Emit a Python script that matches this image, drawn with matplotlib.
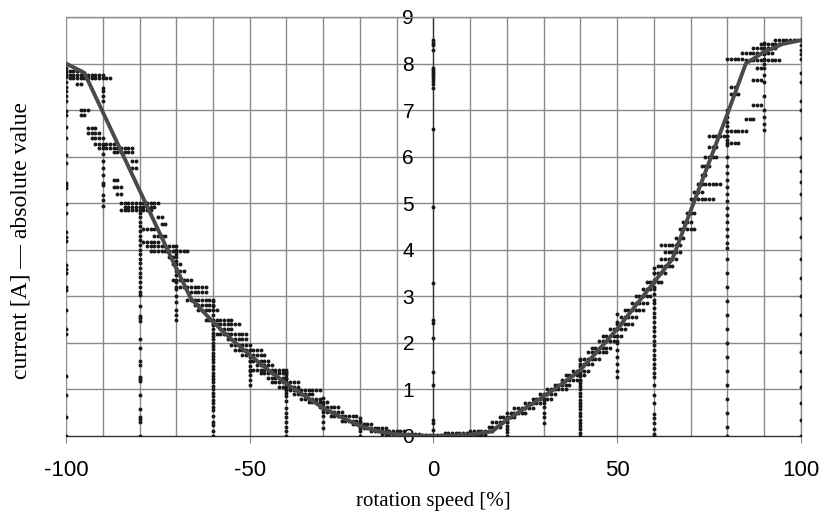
import numpy as np
import matplotlib
matplotlib.use("Agg")
import matplotlib.pyplot as plt

# ---- fitted mean curve ----
curve_speed = [-100, -95, -90, -85, -80, -75, -70, -66, -60, -55, -50, -45, -40, -35, -30,
               -25, -20, -15, -10, -5, 0, 5, 10, 16, 20, 25, 30, 35, 40, 45, 50, 55, 60,
               65, 70, 75, 80, 85, 90, 95, 100]
curve_current = [8.0, 7.8, 6.96, 6.12, 5.28, 4.44, 3.6, 2.95, 2.45, 2.08, 1.74, 1.42, 1.12,
                 0.86, 0.6, 0.4, 0.22, 0.1, 0.04, 0.01, 0.0, 0.01, 0.03, 0.1, 0.35, 0.6,
                 0.85, 1.12, 1.42, 1.85, 2.3, 2.8, 3.3, 3.8, 4.84, 5.88, 6.92, 8.0, 8.25,
                 8.42, 8.5]

# ---- measured samples: vertical columns (speed, list of currents) ----
col_speeds = [-100, -90, -80, -70, -60, -50, -40, -30, -20, 0, 20, 30, 40, 50, 60, 80, 90, 100]
col_values = [
    [0, 0.41, 0.88, 1.29, 2.19, 2.3, 2.7, 3.14, 3.19, 3.49, 3.58, 3.67, 4.19, 4.28, 4.39, 4.8,
     4.98, 5.33, 5.39, 5.43, 5.86, 6.03, 6.39, 6.64, 6.9, 6.97, 7.2, 7.3, 7.4, 7.5, 7.6, 7.7,
     7.8, 7.9],
    [4.93, 5.07, 5.17, 5.39, 5.43, 5.6, 5.75, 5.9, 6.05, 6.25, 7.2, 7.3, 7.4, 7.47],
    [0, 0.29, 0.36, 0.4, 0.57, 0.88, 1.19, 1.22, 1.27, 1.52, 1.6, 1.88, 2.08, 2.47, 2.53, 2.58,
     2.79, 3.03, 3.1, 3.2, 3.3, 3.42, 3.5, 3.6, 3.72, 3.8, 3.9, 4.0, 4.1, 4.2, 4.3, 4.4, 4.5,
     4.6, 4.7, 4.8],
    [2.49, 2.6, 2.71, 2.88, 3.0, 3.15, 3.3, 3.45, 3.6, 3.75, 3.9, 4.0],
    [0, 0.1, 0.24, 0.31, 0.42, 0.56, 0.63, 0.7, 0.78, 0.86, 0.93, 1.0, 1.08, 1.15, 1.22,
     1.29, 1.36, 1.43, 1.5, 1.58, 1.65, 1.72, 1.79, 1.86, 1.93, 2.0, 2.08, 2.15, 2.22, 2.3,
     2.38, 2.5, 2.6, 2.7, 2.8, 2.9],
    [1.1, 1.2, 1.3, 1.4, 1.5, 1.6, 1.7, 1.85],
    [0, 0.1, 0.2, 0.3, 0.4, 0.5, 0.6, 0.75, 0.85, 0.92, 1.0, 1.08, 1.15, 1.22, 1.3, 1.38],
    [0.17, 0.3, 0.42, 0.55, 0.68, 0.82],
    [0.0, 0.1, 0.2, 0.3, 0.39],
    [0.13, 0.27, 0.34, 1.1, 1.38, 2.1, 2.42, 2.49, 3.29, 4.91, 6.6, 7.47, 7.55, 7.62, 7.68,
     7.73, 7.78, 7.82, 7.87, 7.9, 8.29, 8.4, 8.45, 8.5],
    [0.0, 0.08, 0.15, 0.22, 0.31],
    [0.27, 0.4, 0.5, 0.62, 0.77],
    [0, 0.07, 0.14, 0.21, 0.28, 0.35, 0.42, 0.5, 0.57, 0.64, 0.71, 0.78, 0.86, 0.93, 1.0,
     1.07, 1.14, 1.21, 1.28, 1.35, 1.42, 1.5, 1.63],
    [1.27, 1.4, 1.55, 1.7, 1.85, 2.0, 2.15, 2.3, 2.45, 2.63],
    [0, 0.05, 0.16, 0.27, 0.38, 0.48, 0.7, 0.88, 1.1, 1.27, 1.35, 1.45, 1.55, 1.65, 1.75,
     1.85, 1.95, 2.05, 2.15, 2.25, 2.35, 2.45, 2.55, 2.65, 2.75, 2.85, 2.92, 3.05, 3.2, 3.35,
     3.5, 3.6],
    [0, 0.2, 0.5, 0.8, 1.1, 1.4, 1.7, 2.0, 2.3, 2.6, 2.9, 3.2, 3.5, 3.8, 4.04, 4.15, 4.3,
     4.45, 4.6, 4.75, 4.9, 5.05, 5.2, 5.35, 5.5, 5.65, 5.8, 6.0, 6.25, 6.35, 6.45, 6.55, 6.65,
     6.75, 6.85, 7.0],
    [6.57, 6.7, 6.85, 7.0, 7.3, 7.6, 7.75, 7.9, 8.0, 8.1, 8.2, 8.3, 8.43],
    [0, 0.35, 0.7, 1.05, 1.4, 1.8, 2.2, 2.6, 3.0, 3.4, 3.8, 4.28, 4.68, 5.2, 5.46, 5.7, 6.0,
     6.4, 7.0, 7.2, 7.6, 7.8, 8.1, 8.2, 8.3, 8.4, 8.5],
]

# ---- measured samples: horizontal runs (current, speed from, speed to), 1 % steps ----
run_current = [7.85, 7.75, 7.68, 7.55, 7.0, 6.9, 6.62, 6.5, 6.4, 6.28, 6.18, 6.1, 5.9, 5.75,
               5.5, 5.35, 5.2, 5.0, 4.92, 4.85, 4.7, 4.55, 4.45, 4.3, 4.17, 4.07, 3.97, 3.85,
               3.7, 3.55, 3.35, 3.2, 3.1, 2.92, 2.82, 2.7, 2.5, 2.4, 2.3, 2.2, 2.08, 1.95,
               1.85, 1.75, 1.62, 1.52, 1.42, 1.35, 1.25, 1.15, 1.06, 0.98, 0.9, 0.8, 0.72,
               0.62, 0.52, 0.42, 0.33, 0.25, 0.17, 0.1, 0.04,
               0.02, 0.06, 0.1, 0.2, 0.3, 0.4, 0.5, 0.6, 0.7, 0.8, 0.9, 1.0, 1.1, 1.2, 1.3,
               1.4, 1.55, 1.65, 1.8, 1.9, 2.05, 2.15, 2.3, 2.4, 2.55, 2.7, 2.85, 3.0, 3.15,
               3.3, 3.5, 3.65, 3.8, 3.95, 4.1, 4.25, 4.45, 4.6, 4.8, 5.1, 5.25, 5.42, 5.6, 5.8,
               6.0, 6.2, 6.3, 6.45, 6.55, 6.8, 7.1, 7.35, 7.5, 7.65, 7.9, 8.1, 8.08, 8.22,
               8.33, 8.42, 8.5]
run_from = [-100, -100, -99, -97, -96, -96, -94, -94, -93, -92, -91, -87, -82, -82,
            -87, -87, -86, -85, -84, -85, -75, -74, -79, -76, -79, -78, -77, -72,
            -71, -70, -71, -70, -66, -67, -65, -64, -62, -60, -58, -59, -56, -55,
            -54, -52, -50, -48, -50, -47, -45, -44, -42, -40, -38, -36, -34,
            -31, -30, -28, -25, -22, -20, -17, -14,
            -3, 3, 10, 15, 16, 18, 20, 22, 25, 27, 29, 31, 33, 35, 36,
            38, 40, 40, 42, 43, 45, 46, 48, 50, 51, 52, 54, 55, 57,
            58, 60, 61, 62, 63, 62, 66, 67, 68, 69, 70, 71, 72, 73, 73,
            74, 75, 80, 75, 80, 85, 87, 81, 81, 87, 88, 80, 85, 84,
            87, 89, 93]
run_to = [-96, -90, -88, -96, -94, -95, -92, -91, -90, -87, -82, -82, -81, -81,
          -86, -85, -85, -75, -76, -77, -74, -73, -76, -73, -75, -70, -67, -70,
          -69, -68, -66, -62, -62, -60, -60, -59, -55, -53, -55, -51, -51, -50,
          -47, -46, -45, -44, -40, -40, -40, -37, -37, -31, -33, -31, -29,
          -26, -25, -21, -20, -17, -13, -8, -4,
          14, 14, 16, 18, 20, 22, 25, 27, 30, 32, 33, 36, 37, 40, 41,
          42, 43, 45, 47, 48, 50, 51, 52, 54, 55, 57, 58, 59, 60,
          62, 63, 65, 66, 67, 67, 68, 71, 70, 71, 76, 73, 78, 74, 75,
          77, 77, 83, 80, 85, 87, 89, 83, 82, 89, 89, 84, 94, 92,
          93, 94, 100]

# build point arrays
pts_x, pts_y = [], []
for s, vals in zip(col_speeds, col_values):
    pts_x += [s] * len(vals)
    pts_y += vals
for c, a, b in zip(run_current, run_from, run_to):
    xs = np.arange(a, b + 1)
    pts_x += list(xs)
    pts_y += [c] * len(xs)

fig = plt.figure(figsize=(8.21, 5.14), dpi=100)
ax = fig.add_axes([0.0804, 0.1518, 0.8952, 0.8152])

ax.set_xlim(-100, 100)
ax.set_ylim(0, 9)

grid_c = '#8a8a8a'
for gx in range(-100, 101, 10):
    ax.axvline(gx, color=grid_c, lw=1.0, zorder=1)
for gy in range(1, 10):
    ax.axhline(gy, color=grid_c, lw=1.0, zorder=1)

ax.scatter(pts_x, pts_y, s=8, color='#1a1a1a', marker='o', linewidths=0, zorder=3)
ax.plot(curve_speed, curve_current, color='#4a4a4a', lw=2.8, zorder=4,
        solid_joinstyle='round')

for side in ['top', 'right']:
    ax.spines[side].set_color(grid_c)
    ax.spines[side].set_linewidth(1.0)
ax.spines['left'].set_position(('data', 0))
ax.spines['left'].set_color('#333333')
ax.spines['left'].set_linewidth(0.9)
ax.spines['bottom'].set_color('#333333')
ax.spines['bottom'].set_linewidth(1.0)

ax.set_xticks([-100, -50, 0, 50, 100])
ax.set_yticks(range(0, 10))
ax.set_xticklabels(['-100', '-50', '0', '50', '100'],
                   fontdict=dict(family='Liberation Sans', size=16))
ax.set_yticklabels([str(v) for v in range(10)],
                   fontdict=dict(family='Liberation Sans', size=15))
ax.tick_params(axis='x', length=5, color=grid_c, pad=12)
ax.tick_params(axis='y', length=0, pad=14)
for lab in ax.get_yticklabels():
    lab.set_zorder(6)

ax.set_xlabel('rotation speed [%]', family='Liberation Serif', fontsize=15, labelpad=8)
fig.text(0.025, 0.532, 'current [A] — absolute value', family='Liberation Serif',
         fontsize=17, rotation=90, ha='center', va='center')

fig.savefig('out.png', dpi=100)
